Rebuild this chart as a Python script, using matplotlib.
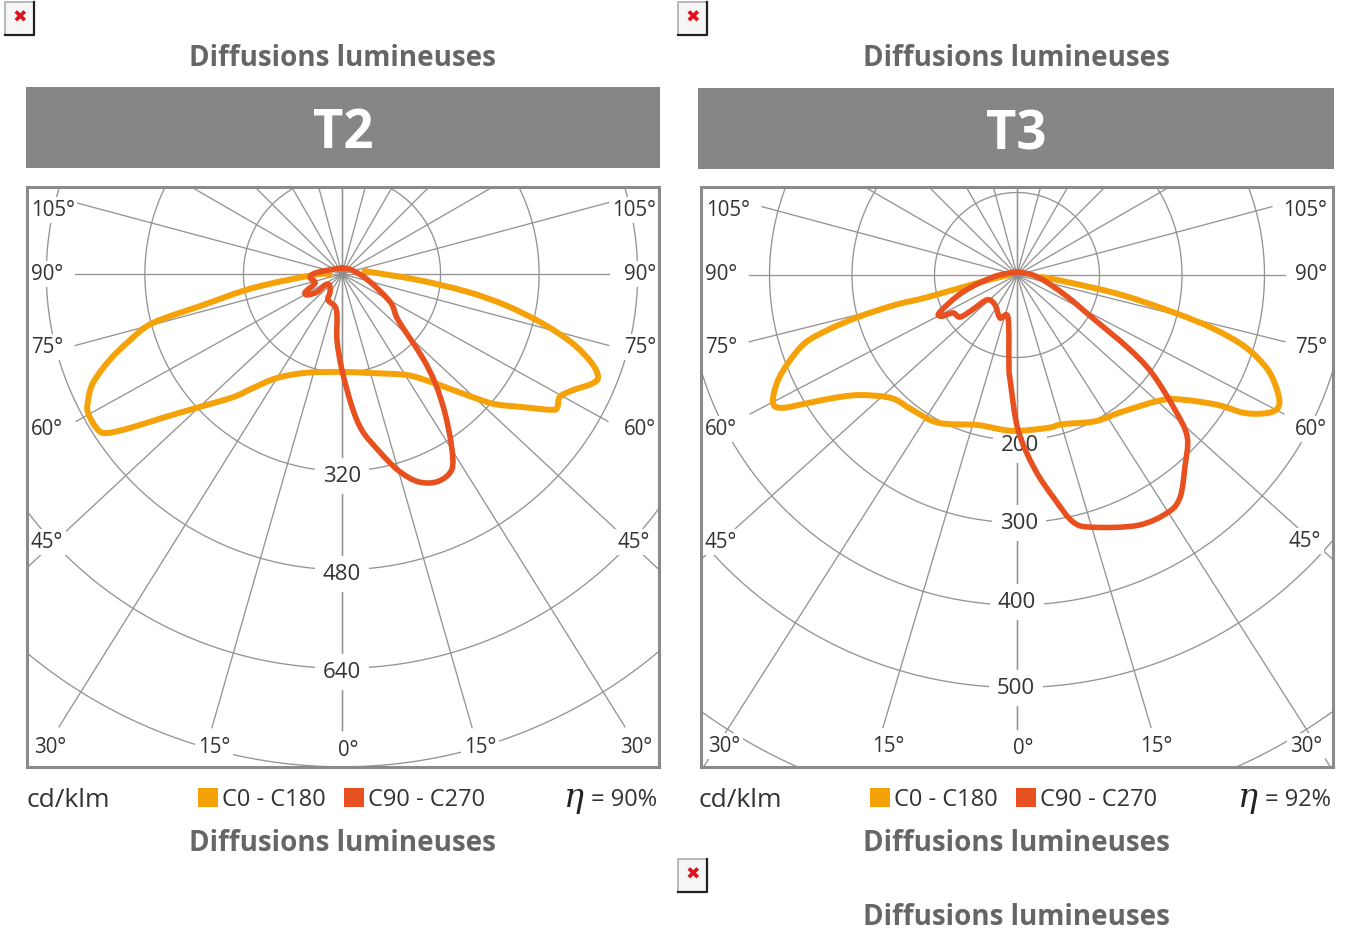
import numpy as np
import matplotlib
matplotlib.use("Agg")
import matplotlib.pyplot as plt
from matplotlib.patches import Rectangle, PathPatch
from matplotlib.path import Path

plt.rcParams['font.family'] = ['Open Sans', 'DejaVu Sans']

# ---------- data (gamma angle in degrees, intensity in cd/klm) ----------
t2_c0_angle = [-90, -88, -81.1, -77.4, -75.5, -72.7, -69.7, -66.4, -63.6, -61.3, -57.4, -55.8, -54, -51.2,
               -47.3, -41.5, -38, -32, -19.5, 0, 14.7, 32, 38, 42.9, 47, 49.6, 53.5, 57.1, 58.3, 60.6,
               63.2, 66.3, 68.1, 70.4, 73.3, 76.2, 79.2, 81.9, 85.5, 97.4]
t2_c0_value = [20, 47, 146, 231, 317, 360, 402, 441, 460, 470, 470, 459, 425, 372,
               320, 267, 235, 199, 170, 159, 166, 193, 218, 253, 295, 326, 363, 406, 411, 406,
               419, 443, 448, 430, 390, 334, 270, 206, 124, 37]
t2_c90_angle = [-180, -98.9, -90, -82.9, -71.6, -64, -59, -54.2, -57.1, -49.8, -33.7, -28.3, -12, -6.6,
                -4.3, 0, 4.3, 7.3, 11.6, 15.9, 20.1, 24.8, 29.3, 32.4, 36.5, 40.5, 44, 50.6, 59.7, 77,
                111.8, 180]
t2_c90_value = [10, 31, 47, 52, 46, 66, 66, 50, 33, 27, 35, 48, 54, 70,
                108, 156, 216, 256, 292, 331, 359, 371, 364, 332, 281, 233, 187, 118, 91, 43,
                17, 10]
t3_c0_angle = [-90, -80.2, -76.1, -76.2, -75.2, -73.8, -72.2, -69, -65.8, -62.3, -60.5, -58.5, -55.7, -52.3,
               -45.5, -37.9, -28.1, -14.6, -1.8, 11.5, 16.8, 28.1, 37.5, 49.2, 53.4, 57.1, 58.8, 61.2,
               63.2, 65.7, 69.3, 72.5, 74.8, 76.5, 79.2, 81.7, 85.4]
t3_c0_value = [10, 36, 111, 152, 199, 239, 270, 297, 319, 334, 327, 297, 263, 238,
               213, 207, 203, 188, 189, 189, 189, 201, 209, 232, 254, 290, 323, 347,
               355, 347, 325, 290, 245, 197, 130, 67, 30]
t3_c90_angle = [-180, -85.2, -72.5, -64.3, -61.3, -59.3, -53.6, -52.1, -50.2, -36.3, -21.6, -11.8, -5, -3.8,
                0.4, 5.3, 9.6, 12.8, 16.6, 25.8, 32.5, 36.3, 41.2, 46.4, 49.5, 54, 56.7, 60, 67.4, 84.6, 180]
t3_c90_value = [4, 29, 69, 104, 104, 90, 86, 69, 47, 45, 56, 53, 112, 127,
                188, 237, 276, 307, 319, 337, 341, 334, 309, 285, 252, 202, 161, 109, 63, 25, 4]

t2_rings = [160, 320, 480, 640, 800]
t3_rings = [100, 200, 300, 400, 500, 653]
series_names = ['C0 - C180', 'C90 - C270']
page_title = 'Diffusions lumineuses'

# drawn direction of each spoke (the sheet's grid is slightly wider than true 15 degree steps)
t2_spokes = [0, 16, 32, 47, 61, 75, 90, 105, 120, 135, 150, 165, 180]
t3_spokes = [0, 16.5, 32.5, 48, 62.5, 76, 90, 105, 120, 135, 150, 165, 180]

# ---------- style ----------
W, H = 1347, 930
ORANGE = '#f5a209'
RED = '#e8501f'
GRID = '#949494'
FRAME = '#8a8a8a'
BAND = '#868686'
TXT = '#333333'
TITLE = '#666666'

fig = plt.figure(figsize=(W / 100, H / 100), dpi=100, facecolor='white')
ov = fig.add_axes([0, 0, 1, 1], zorder=0)
ov.set_xlim(0, W)
ov.set_ylim(H, 0)
ov.axis('off')


def broken_icon(x, y):
    ov.add_patch(Rectangle((x, y), 29, 33, fc='#f6f6f6', ec='none'))
    ov.plot([x, x, x + 29], [y + 33, y, y], color='#b8b8b8', lw=1.4)
    ov.plot([x, x + 29, x + 29], [y + 33, y + 33, y], color='#222222', lw=1.6)
    ov.text(x + 14.5, y + 16, '✖', color='#e0101c', fontsize=12.5, ha='center', va='center',
            family=['DejaVu Sans'], fontweight='bold')


def page_heading(cx, y):
    ov.text(cx, y + 3, page_title, color=TITLE, fontsize=20, fontweight='bold', ha='center', va='center')


def smooth_path(x, y):
    """Bezier path through the read points (Catmull-Rom control points)."""
    p = np.column_stack([x, y])
    prev = np.vstack([p[0], p[:-1]])
    nxt = np.vstack([p[1:], p[-1]])
    tang = (nxt - prev) / 6.0
    verts = [p[0]]
    codes = [Path.MOVETO]
    for i in range(len(p) - 1):
        verts += [p[i] + tang[i], p[i + 1] - tang[i + 1], p[i + 1]]
        codes += [Path.CURVE4] * 3
    return Path(np.array(verts), codes)


def panel(name, band, frame, centre, scale, rings, ring_labels, spokes, reach, c0, c90,
          angle_labels, leg, eta, unit_x, eta_x):
    ov.add_patch(Rectangle((band[0], band[1]), band[2] - band[0], band[3] - band[1], fc=BAND, ec='none'))
    ov.text((band[0] + band[2]) / 2, (band[1] + band[3]) / 2 + 7, name, color='white', fontsize=38,
            fontweight='bold', ha='center', va='center')

    L, T, R, B = frame
    cx, cy = centre
    ax = fig.add_axes([L / W, 1 - B / H, (R - L) / W, (B - T) / H], zorder=1)
    ax.set_xlim((L - cx) / scale, (R - cx) / scale)
    ax.set_ylim((B - cy) / scale, (T - cy) / scale)
    ax.set_xticks([])
    ax.set_yticks([])
    for s in ax.spines.values():
        s.set_color(FRAME)
        s.set_linewidth(2.2)
        s.set_zorder(8)

    t = np.radians(np.arange(0, 360.5, 1.0))
    for r in rings:
        ax.plot(r * np.sin(t), r * np.cos(t), color=GRID, lw=0.95, zorder=1)

    for a, px in zip(spokes, reach):
        ln = px / scale
        g = np.radians(a)
        for sign in (-1, 1):
            ax.plot([0, sign * ln * np.sin(g)], [0, ln * np.cos(g)], color=GRID, lw=0.95, zorder=1)
    ax.plot([0], [0], 'o', ms=4.5, color='#8f8f8f', zorder=2)

    box = dict(fc='white', ec='none', boxstyle='square,pad=0.12')
    for txt, x, y in angle_labels:
        ax.text(x, y + 2, txt, transform=ov.transData, fontsize=14.8, color=TXT, ha='center', va='center',
                bbox=box, zorder=3, clip_on=False)
    box2 = dict(fc='white', ec='none', boxstyle='square,pad=0.34')
    for txt, x, y in ring_labels:
        ax.text(x, y + 2, txt, transform=ov.transData, fontsize=16, color=TXT, ha='center', va='center',
                bbox=box2, zorder=3)

    for (ang, val), col, w in ((c0, ORANGE, 4.3), (c90, RED, 4.0)):
        g = np.radians(ang)
        v = np.asarray(val, float)
        ax.add_patch(PathPatch(smooth_path(v * np.sin(g), v * np.cos(g)), fill=False, ec=col, lw=w, zorder=5,
                               joinstyle='round', capstyle='round', clip_on=False))

    ov.text(unit_x, 800, 'cd/klm', fontsize=19, color=TXT, ha='left', va='center')
    ov.add_patch(Rectangle((leg[0], 788), 20, 19, fc=ORANGE, ec='none'))
    ov.text(leg[0] + 24, 800, series_names[0], fontsize=17, color=TXT, ha='left', va='center')
    ov.add_patch(Rectangle((leg[1], 788), 20, 19, fc=RED, ec='none'))
    ov.text(leg[1] + 24, 800, series_names[1], fontsize=17, color=TXT, ha='left', va='center')
    ov.text(eta_x, 800, f'= {eta}%', fontsize=17, color=TXT, ha='right', va='center')
    ov.text(eta_x - 73, 798, 'η', fontsize=24, color='#222222', ha='right', va='center', style='italic',
            family=['DejaVu Serif'])


t2_angle_labels = [('105°', 53, 208), ('90°', 47, 272), ('75°', 47, 345), ('60°', 47, 427), ('45°', 47, 540),
                   ('30°', 50, 745), ('15°', 214, 745), ('0°', 348, 748), ('15°', 480, 745), ('30°', 636, 745),
                   ('45°', 634, 540), ('60°', 640, 427), ('75°', 640, 345), ('90°', 640, 272), ('105°', 634, 208)]
t3_angle_labels = [('105°', 728, 208), ('90°', 721, 272), ('75°', 721, 345), ('60°', 721, 427), ('45°', 721, 540),
                   ('30°', 724, 744), ('15°', 888, 744), ('0°', 1023, 746), ('15°', 1156, 744), ('30°', 1306, 744),
                   ('45°', 1305, 539), ('60°', 1311, 427), ('75°', 1311, 345), ('90°', 1311, 272), ('105°', 1305, 208)]
t2_ring_labels = [('320', 342, 474), ('480', 342, 572), ('640', 342, 670)]
t3_ring_labels = [('200', 1020, 443), ('300', 1019, 521), ('400', 1017, 600), ('500', 1016, 686)]

t2_reach = [456, 472, 534, 700, 304, 276, 267, 276, 700, 700, 700, 700, 700]
t3_reach = [454, 472, 700, 700, 301, 276, 268, 264, 700, 700, 700, 700, 700]

panel('T2', (26, 87, 660, 168), (27, 187, 659, 767), (342, 274), 0.616, t2_rings, t2_ring_labels,
      t2_spokes, t2_reach, (t2_c0_angle, t2_c0_value), (t2_c90_angle, t2_c90_value),
      t2_angle_labels, (198, 344), 90, 27, 657)
panel('T3', (698, 88, 1334, 169), (701, 187, 1333, 767), (1017, 275), 0.825, t3_rings, t3_ring_labels,
      t3_spokes, t3_reach, (t3_c0_angle, t3_c0_value), (t3_c90_angle, t3_c90_value),
      t3_angle_labels, (870, 1016), 92, 699, 1331)

for cx, y in [(342, 56), (1016, 56), (342, 840), (1016, 840), (1016, 914)]:
    page_heading(cx, y)
for x, y in [(5, 2), (678, 2), (678, 859)]:
    broken_icon(x, y)

fig.savefig('out.png', dpi=100)
